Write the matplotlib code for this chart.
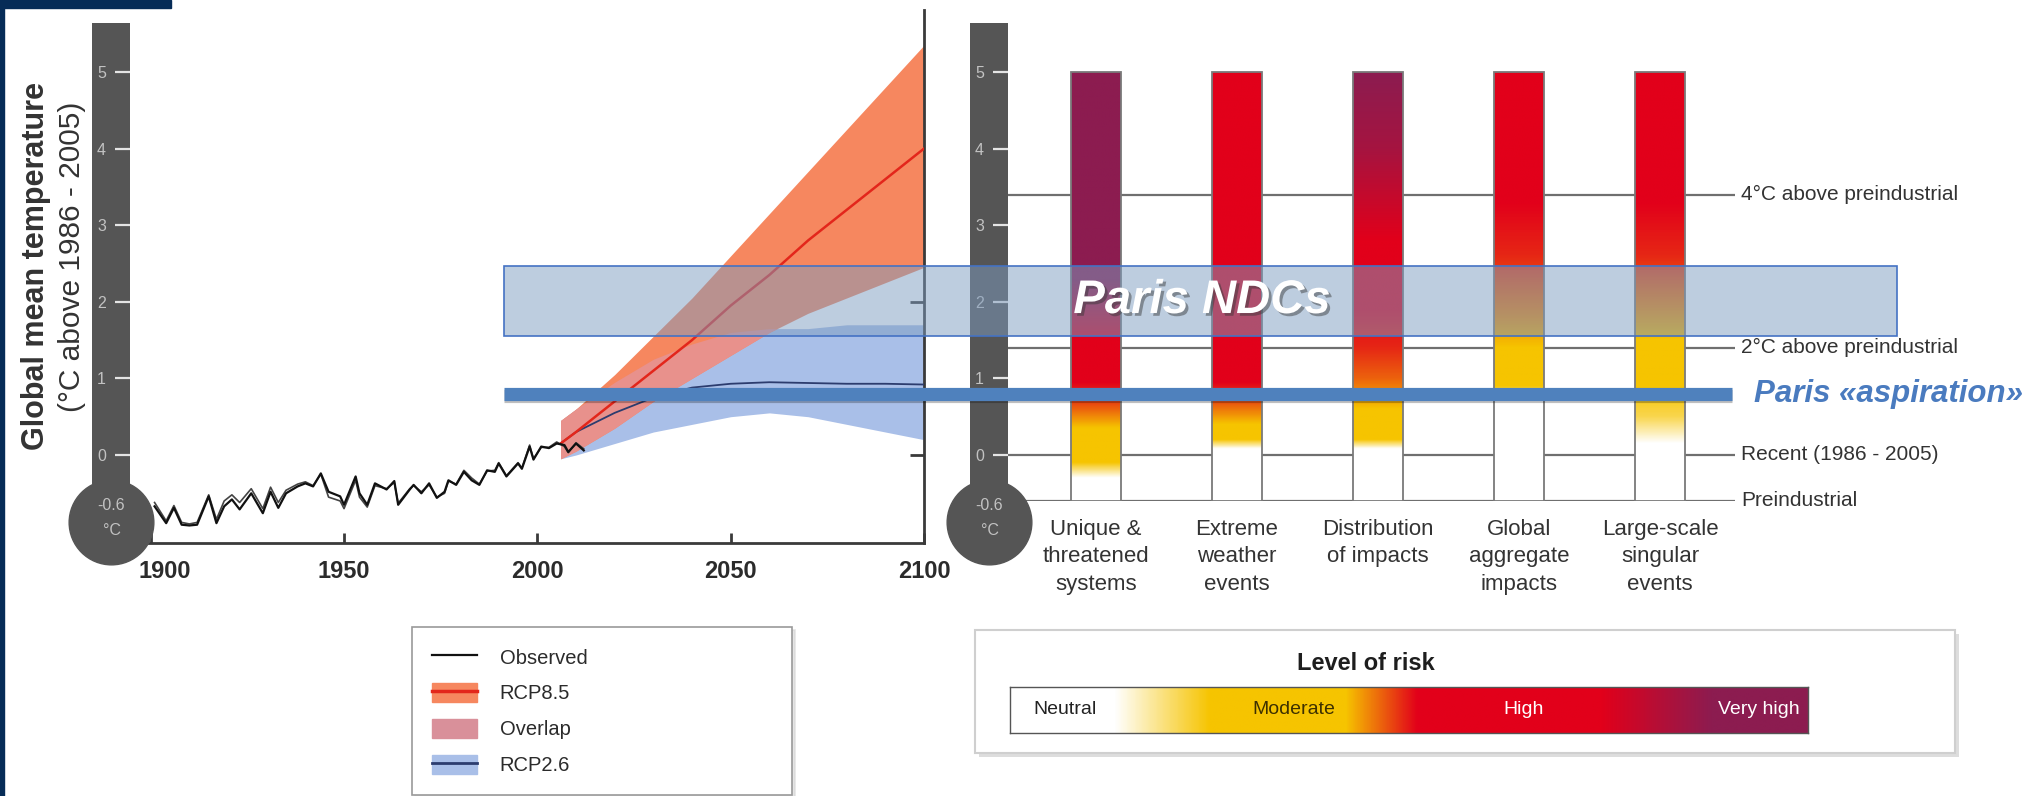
import numpy as np
import matplotlib
matplotlib.use("Agg")
import matplotlib.pyplot as plt
from matplotlib import transforms, patheffects
from matplotlib.colors import LinearSegmentedColormap
from matplotlib.patches import Rectangle, Patch
from matplotlib.lines import Line2D

plt.rcParams['font.family'] = ['Liberation Sans', 'DejaVu Sans']

# Observed global mean temperature, two datasets (degC above 1986-2005)
obs_years = [1901, 1904, 1906, 1908, 1910, 1912, 1915, 1917, 1919, 1921,
             1923, 1926, 1929, 1931, 1933, 1935, 1938, 1940, 1942, 1944,
             1946, 1949, 1950, 1953, 1954, 1956, 1958, 1961, 1963, 1964,
             1967, 1968, 1970, 1972, 1974, 1976, 1977, 1979, 1981, 1983,
             1985, 1987, 1989, 1990, 1992, 1995, 1996, 1998, 1999, 2001,
             2003, 2005, 2007, 2008, 2010, 2012]
obs_main = [-0.67, -0.89, -0.69, -0.91, -0.92, -0.91, -0.54, -0.89, -0.67, -0.58,
            -0.71, -0.50, -0.76, -0.48, -0.69, -0.50, -0.41, -0.37, -0.41, -0.24,
            -0.48, -0.54, -0.65, -0.28, -0.50, -0.65, -0.37, -0.45, -0.34, -0.65,
            -0.45, -0.39, -0.50, -0.37, -0.56, -0.48, -0.33, -0.39, -0.22, -0.33,
            -0.39, -0.20, -0.22, -0.11, -0.28, -0.11, -0.18, 0.11, -0.06, 0.11,
            0.09, 0.15, 0.13, 0.04, 0.15, 0.06]
obs_alt = [-0.62, -0.86, -0.66, -0.88, -0.90, -0.88, -0.52, -0.84, -0.60, -0.52,
           -0.62, -0.44, -0.70, -0.42, -0.62, -0.46, -0.38, -0.35, -0.40, -0.25,
           -0.55, -0.60, -0.70, -0.33, -0.55, -0.68, -0.40, -0.44, -0.36, -0.63,
           -0.44, -0.40, -0.48, -0.39, -0.55, -0.50, -0.34, -0.38, -0.20, -0.30,
           -0.38, -0.21, -0.20, -0.10, -0.27, -0.10, -0.17, 0.13, -0.05, 0.10,
           0.10, 0.17, 0.11, 0.03, 0.16, 0.08]

# Projections
rcp_years = [2006, 2010, 2020, 2030, 2040, 2050, 2060, 2070, 2080, 2090, 2100]
rcp85_mean = [0.15, 0.30, 0.70, 1.10, 1.50, 1.95, 2.35, 2.80, 3.20, 3.60, 4.00]
rcp85_low = [-0.05, 0.05, 0.35, 0.70, 1.00, 1.30, 1.60, 1.85, 2.05, 2.25, 2.45]
rcp85_high = [0.45, 0.60, 1.05, 1.55, 2.05, 2.60, 3.15, 3.70, 4.25, 4.80, 5.35]
rcp26_mean = [0.15, 0.30, 0.55, 0.75, 0.88, 0.93, 0.95, 0.94, 0.93, 0.93, 0.92]
rcp26_low = [-0.05, 0.00, 0.15, 0.30, 0.40, 0.50, 0.55, 0.50, 0.40, 0.30, 0.20]
rcp26_high = [0.45, 0.60, 0.95, 1.25, 1.45, 1.60, 1.65, 1.65, 1.70, 1.70, 1.70]

# Reasons for concern: temperature where risk level changes
# (0 neutral, 1 moderate, 2 high, 3 very high)
concerns = ["Unique &\nthreatened\nsystems", "Extreme\nweather\nevents",
            "Distribution\nof impacts", "Global\naggregate\nimpacts",
            "Large-scale\nsingular\nevents"]
risk_temps = [[-0.3, -0.1, 0.35, 0.65, 0.95, 1.5, 2.3, 5.0],
              [0.08, 0.2, 0.4, 0.7, 0.95, 5.0],
              [0.08, 0.2, 0.6, 1.0, 1.4, 1.9, 2.8, 4.0, 5.0],
              [0.7, 0.9, 1.4, 1.8, 2.6, 3.3, 5.0],
              [0.15, 0.5, 0.9, 1.5, 1.9, 2.6, 3.3, 5.0]]
risk_levels = [[0, 1, 1, 1.6, 2, 2, 3, 3],
               [0, 1, 1, 1.6, 2, 2],
               [0, 1, 1, 1.5, 1.8, 2, 2, 2.7, 3],
               [0, 1, 1, 1.3, 1.8, 2, 2],
               [0, 0.7, 1, 1, 1.3, 1.8, 2, 2]]

level_values = [3.4, 1.4, 0.0, -0.6]
level_labels = ["4°C above preindustrial", "2°C above preindustrial",
                "Recent (1986 - 2005)", "Preindustrial"]

risk_key_pos = [0, 0.13, 0.25, 0.42, 0.51, 0.74, 0.88, 1.0]
risk_key_level = [0, 0, 1, 1, 2, 2, 3, 3]

ndc_low, ndc_high = 1.55, 2.47
aspiration = 0.8
thermo_ticks = [0, 1, 2, 3, 4, 5]

risk_cmap = LinearSegmentedColormap.from_list(
    "risk", [(0, "#ffffff"), (1 / 3, "#f6c400"), (2 / 3, "#e2001a"), (1, "#8c1c50")])

W, H = 2030, 796
T0_PX = 455        # pixel row of 0 degC
PX_PER_DEG = 76.6
BULB_T, TOP_T = -0.875, 5.64
THERMO = "#555555"
INK = "#2b2b2b"

fig = plt.figure(figsize=(W / 100, H / 100), dpi=100)
fig.patch.set_facecolor("white")


def row(t):
    return 1 - (T0_PX - PX_PER_DEG * t) / H


def temp_axes(x0, x1, t0, t1):
    ax = fig.add_axes([x0 / W, row(t0), (x1 - x0) / W, row(t1) - row(t0)])
    ax.set_ylim(t0, t1)
    ax.set_facecolor("none")
    return ax


def thermometer(x0, x1):
    ax = temp_axes(x0, x1, BULB_T, TOP_T)
    ax.set_xlim(0, 1)
    ax.set_facecolor(THERMO)
    for s in ax.spines.values():
        s.set_visible(False)
    ax.set_xticks([])
    ax.set_yticks(thermo_ticks, [str(t) for t in thermo_ticks])
    ax.tick_params(axis="y", left=False, right=True, direction="in", length=11,
                   width=1.6, color="#e4e4e4", labelleft=True, pad=-10,
                   labelsize=11.5, labelcolor="#c2c2c2")
    blend = transforms.blended_transform_factory(ax.transAxes, ax.transData)
    ax.plot([0.5], [BULB_T], marker="o", ms=61, color=THERMO, transform=blend,
            clip_on=False)
    ax.annotate("-0.6", (0.5, BULB_T), xycoords=blend, xytext=(0, 12),
                textcoords="offset points", ha="center", va="center",
                size=11.5, color="#c2c2c2")
    ax.annotate("°C", (0.5, BULB_T), xycoords=blend, xytext=(1, -6),
                textcoords="offset points", ha="center", va="center",
                size=11.5, color="#c2c2c2")
    return ax


# ---- left panel: temperature time series ----
ax1 = temp_axes(148, 924, -1.149, 5.81)
ax1.set_xlim(1899.3, 2100)
for side in ["left", "top"]:
    ax1.spines[side].set_visible(False)
for side in ["bottom", "right"]:
    ax1.spines[side].set_color("#3a3a3a")
    ax1.spines[side].set_linewidth(2)
ax1.set_xticks([1900, 1950, 2000, 2050, 2100])
ax1.tick_params(axis="x", direction="in", length=7, width=2, color="#3a3a3a",
                labelsize=17, pad=12, labelcolor=INK)
for lbl in ax1.get_xticklabels():
    lbl.set_fontweight("bold")
first = ax1.get_xticklabels()[0]
first.set_transform(first.get_transform()
                    + transforms.ScaledTranslation(0.14, 0, fig.dpi_scale_trans))
ax1.yaxis.set_ticks_position("right")
ax1.set_yticks([0, 2, 4], ["", "", ""])
ax1.tick_params(axis="y", direction="in", length=10, width=2, color="#3a3a3a")

c85, c26, cover = "#f6875f", "#a9bfe8", "#e8918c"
ax1.fill_between(rcp_years, rcp26_low, rcp26_high, color=c26, lw=0, zorder=2)
ax1.fill_between(rcp_years, rcp85_low, rcp85_high, color=c85, lw=0, zorder=2)
lo = np.maximum(rcp85_low, rcp26_low)
hi = np.minimum(rcp85_high, rcp26_high)
ax1.fill_between(rcp_years, lo, hi, where=hi > lo, interpolate=True,
                 color=cover, lw=0, zorder=3)
ax1.plot(rcp_years, rcp26_mean, color="#2c3c6e", lw=1.3, zorder=4)
ax1.plot(rcp_years, rcp85_mean, color="#e3261b", lw=1.8, zorder=4)
ax1.plot(obs_years, obs_alt, color="#444444", lw=1.2, zorder=5)
ax1.plot(obs_years, obs_main, color="#111111", lw=1.6, zorder=5)

handles = [Line2D([], [], color="#111111", lw=1.6),
           (Patch(color=c85), Line2D([], [], color="#e3261b", lw=2.5)),
           Patch(color="#d9909a"),
           (Patch(color=c26), Line2D([], [], color="#2c3c6e", lw=2))]
leg = ax1.legend(handles, ["Observed", "RCP8.5", "Overlap", "RCP2.6"],
                 loc="upper left", mode="expand",
                 bbox_to_anchor=(412 / W, 1 - 627 / H - 0.1, 380 / W, 0.1),
                 bbox_transform=fig.transFigure, borderaxespad=0,
                 fontsize=14.5, handlelength=2.25, handleheight=1.1,
                 handletextpad=1.1, labelspacing=0.76, borderpad=1.0,
                 fancybox=False, framealpha=1, labelcolor=INK,
                 shadow={"color": "#d4d4d4", "alpha": 0.6})
leg.get_frame().set_edgecolor("#9a9a9a")
leg.get_frame().set_linewidth(1.2)

thermometer(92, 130)
fig.text(36 / W, 1 - 266 / H, "Global mean temperature", rotation=90,
         ha="center", va="center", size=22, weight="bold", color="#333333")
fig.text(72 / W, 1 - 257 / H, "(°C above 1986 - 2005)", rotation=90,
         ha="center", va="center", size=21.5, color="#333333")

# ---- right panel: risk by reason for concern ----
ax2 = temp_axes(1008, 1735, -0.6, 5.81)
for s in ax2.spines.values():
    s.set_visible(False)
ax2.set_yticks([])
for lev, lab in zip(level_values, level_labels):
    ax2.axhline(lev, color="#6f6f6f", lw=1.6, zorder=1)
    ax2.text(1.008, lev, lab, transform=ax2.get_yaxis_transform(),
             va="center", ha="left", size=15, color="#333333")

bar_w = 0.351
temps = np.linspace(-0.6, 5.0, 500)
for i, (tt, rr) in enumerate(zip(risk_temps, risk_levels)):
    risk = np.interp(temps, tt, rr, left=0)
    img = risk_cmap(risk / 3)[:, None, :]
    ax2.imshow(img, extent=(i - bar_w / 2, i + bar_w / 2, -0.6, 5.0),
               origin="lower", aspect="auto", interpolation="bilinear", zorder=2)
    ax2.add_patch(Rectangle((i - bar_w / 2, -0.6), bar_w, 5.6, fill=False,
                            edgecolor="#7a7a7a", lw=1.3, zorder=3))
ax2.set_xlim(-0.624, 4.532)
ax2.set_ylim(-0.6, 5.81)
ax2.set_xticks(range(len(concerns)), concerns)
ax2.tick_params(axis="x", length=0, pad=13, labelsize=16, labelcolor="#333333")
for lbl in ax2.get_xticklabels():
    lbl.set_linespacing(1.4)

thermometer(970, 1008)

# ---- level of risk key ----
frame = Rectangle((975 / W, 1 - 753 / H), (1955 - 975) / W, (753 - 630) / H,
                  transform=fig.transFigure, facecolor="white",
                  edgecolor="#cfcfcf", lw=1.5, zorder=1)
frame.set_path_effects([patheffects.withSimplePatchShadow(
    offset=(3, -3), shadow_rgbFace="#bdbdbd", alpha=0.5)])
fig.add_artist(frame)
fig.text(1366 / W, 1 - 663 / H, "Level of risk", ha="center", va="center",
         size=17, weight="bold", color="#1e1e1e", zorder=2)
axr = fig.add_axes([1010 / W, 1 - 733 / H, 798 / W, 46 / H], zorder=2)
key = np.interp(np.linspace(0, 1, 600), risk_key_pos, risk_key_level)
axr.imshow(risk_cmap(key / 3)[None, :, :], extent=(0, 1, 0, 1), aspect="auto",
           interpolation="bilinear")
axr.set_xticks([])
axr.set_yticks([])
for s in axr.spines.values():
    s.set_color("#555555")
    s.set_linewidth(1)
axr.text(0.029, 0.5, "Neutral", ha="left", va="center", size=14, color="#222222",
         transform=axr.transAxes)
axr.text(0.356, 0.5, "Moderate", ha="center", va="center", size=14,
         color="#3d3000", transform=axr.transAxes)
axr.text(0.643, 0.5, "High", ha="center", va="center", size=14, color="white",
         transform=axr.transAxes)
axr.text(0.99, 0.5, "Very high", ha="right", va="center", size=14, color="white",
         transform=axr.transAxes)

# ---- Paris overlays ----
blend = transforms.blended_transform_factory(fig.transFigure, ax1.transData)
ndc = Rectangle((503.6 / W, ndc_low), (1896.6 - 503.6) / W, ndc_high - ndc_low,
                transform=blend, facecolor="#7d9cc0", alpha=0.5,
                edgecolor="none", zorder=10)
fig.add_artist(ndc)
fig.add_artist(Rectangle((503.6 / W, ndc_low), (1896.6 - 503.6) / W,
                         ndc_high - ndc_low, transform=blend, fill=False,
                         edgecolor="#4472c4", lw=1.2, zorder=10))
fig.text(1202 / W, (ndc_low + ndc_high) / 2, "Paris NDCs", transform=blend,
         ha="center", va="center", size=34, weight="bold", style="italic",
         color="white", zorder=11,
         path_effects=[patheffects.withSimplePatchShadow(
             offset=(2, -2), shadow_rgbFace="#333333", alpha=0.45)])

asp = Line2D([503.6 / W, 1732 / W], [aspiration, aspiration], transform=blend,
             color="#4f81bd", lw=9.5, solid_capstyle="butt", zorder=11)
asp.set_path_effects([patheffects.SimpleLineShadow(offset=(0, -2), alpha=0.25),
                      patheffects.Normal()])
fig.add_artist(asp)
fig.text(1754 / W, aspiration, "Paris «aspiration»", transform=blend,
         ha="left", va="center", size=22.5, weight="bold", style="italic",
         color="#4a7bbf", zorder=11)

# ---- slide frame ----
fig.add_artist(Rectangle((0, 1 - 8 / H), 171 / W, 8 / H, transform=fig.transFigure,
                         color="#062c57", zorder=12))
fig.add_artist(Rectangle((0, 0), 3.5 / W, 1, transform=fig.transFigure,
                         color="#062c57", zorder=12))

fig.savefig("out.png", dpi=100, facecolor="white")
